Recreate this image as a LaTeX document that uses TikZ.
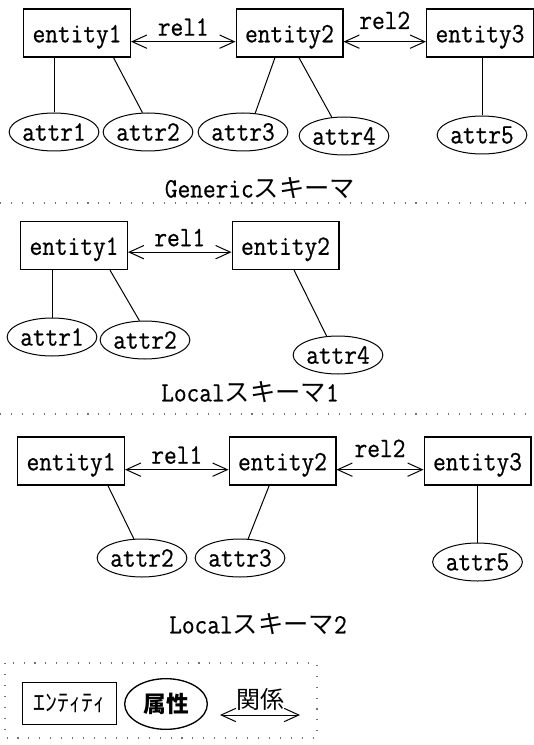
\documentclass[tikz,border=0pt]{standalone}
\usepackage{fontspec}
\newfontfamily\jpfont{Noto Sans CJK JP}
\newfontfamily\erfont{Latin Modern Mono}[FakeStretch=0.88,FakeBold=0.6]
\usetikzlibrary{arrows.meta,shapes.geometric}

\tikzset{every picture/.style={line width=0.75pt}}
\tikzset{
  entbox/.style={draw,rectangle,line width=1pt,minimum width=80pt,minimum height=36pt,inner sep=0pt,text height=16pt,text depth=2pt,font=\fontsize{21}{21}\erfont},
  attrell/.style={draw,ellipse,minimum width=66pt,minimum height=28.5pt,inner sep=0pt,font=\fontsize{21}{21}\erfont},
  relarr/.style={{Straight Barb[length=11pt,width=10pt]}-{Straight Barb[length=11pt,width=10pt]}},
  rellabel/.style={above=3pt,inner sep=1pt,font=\fontsize{21}{21}\erfont},
  schemacap/.style={inner sep=0pt,font=\fontsize{21}{21}\erfont},
  sepline/.style={black!55,line width=0.9pt,dash pattern=on 0.8pt off 7.4pt},
}

\begin{document}
\begin{tikzpicture}[x=0.75pt,y=0.75pt,yscale=-1,xscale=1]
\useasboundingbox (0,0) rectangle (534,745);

%Generic schema
\node[entbox] (g-e1) at (77,33) {entity1};
\node[entbox] (g-e2) at (289.5,33) {entity2};
\node[entbox] (g-e3) at (480,33) {entity3};
\node[attrell] (g-a1) at (54,132) {attr1};
\node[attrell] (g-a2) at (148,132) {attr2};
\node[attrell] (g-a3) at (243,132) {attr3};
\node[attrell] (g-a4) at (344,136) {attr4};
\node[attrell] (g-a5) at (482,135) {attr5};
\draw[relarr] ([yshift=6.5pt]g-e1.east) -- node[rellabel] {rel1} ([yshift=6.5pt]g-e2.west);
\draw[relarr] ([yshift=6.5pt]g-e2.east) -- node[rellabel,above=5pt] {rel2} ([yshift=6.5pt]g-e3.west);
\draw (g-e1.south -| g-a1.north) -- (g-a1.north);
\draw ([xshift=27.4pt]g-e1.south) -- (g-a2.106);
\draw ([xshift=-10.9pt]g-e2.south) -- (g-a3.57);
\draw ([xshift=7.1pt]g-e2.south) -- (g-a4.123);
\draw (g-e3.south -| g-a5.north) -- (g-a5.north);
\node[schemacap] (g-cap) at (260,188) {Generic{\jpfont\fontsize{19}{19}\selectfont スキーマ}};
\draw[sepline] (0,203) -- (534,203);

%Local schema 1
\node[entbox] (l1-e1) at (74,245.5) {entity1};
\node[entbox] (l1-e2) at (285.5,245.5) {entity2};
\node[attrell] (l1-a1) at (52,337) {attr1};
\node[attrell] (l1-a2) at (145,340) {attr2};
\node[attrell] (l1-a4) at (338,355) {attr4};
\draw[relarr] ([yshift=5pt]l1-e1.east) -- node[rellabel] {rel1} ([yshift=5pt]l1-e2.west);
\draw (l1-e1.south -| l1-a1.north) -- (l1-a1.north);
\draw ([xshift=27pt]l1-e1.south) -- (l1-a2.106);
\draw ([xshift=6.4pt]l1-e2.south) -- (l1-a4.121);
\node[schemacap] (l1-cap) at (250,392) {Local{\jpfont\fontsize{19}{19}\selectfont スキーマ}1};
\draw[sepline] (0,414) -- (534,414);

%Local schema 2
\node[entbox] (l2-e1) at (71,461) {entity1};
\node[entbox] (l2-e2) at (282.5,461) {entity2};
\node[entbox] (l2-e3) at (477.5,461) {entity3};
\node[attrell] (l2-a2) at (142,558) {attr2};
\node[attrell] (l2-a3) at (240,558) {attr3};
\node[attrell] (l2-a5) at (477.5,562) {attr5};
\draw[relarr] ([yshift=6.5pt]l2-e1.east) -- node[rellabel] {rel1} ([yshift=6.5pt]l2-e2.west);
\draw[relarr] ([yshift=6.5pt]l2-e2.east) -- node[rellabel,above=5pt] {rel2} ([yshift=6.5pt]l2-e3.west);
\draw ([xshift=27.7pt]l2-e1.south) -- (l2-a2.113);
\draw ([xshift=-10pt]l2-e2.south) -- (l2-a3.67);
\draw (l2-e3.south -| l2-a5.north) -- (l2-a5.north);
\node[schemacap] (l2-cap) at (258,624) {Local{\jpfont\fontsize{19}{19}\selectfont スキーマ}2};

%legend
\draw[sepline] (5,663) rectangle (317,738);
\node[draw,rectangle,minimum width=71pt,minimum height=32pt,inner sep=0pt,font=\fontsize{18}{18}\jpfont] (lg-ent) at (69.5,703.5) {ｴﾝﾃｨﾃｨ};
\node[draw,ellipse,line width=1pt,minimum width=62pt,minimum height=38pt,inner sep=0pt,font=\fontsize{17}{17}\jpfont\bfseries] (lg-attr) at (166,704) {属性};
\coordinate (lg-r1) at (220,715);
\coordinate (lg-r2) at (300,715);
\draw[relarr] (lg-r1) -- node[above=2pt,inner sep=1pt,font=\fontsize{18}{18}\jpfont] (lg-rel) {関係} (lg-r2);

\end{tikzpicture}
\end{document}
